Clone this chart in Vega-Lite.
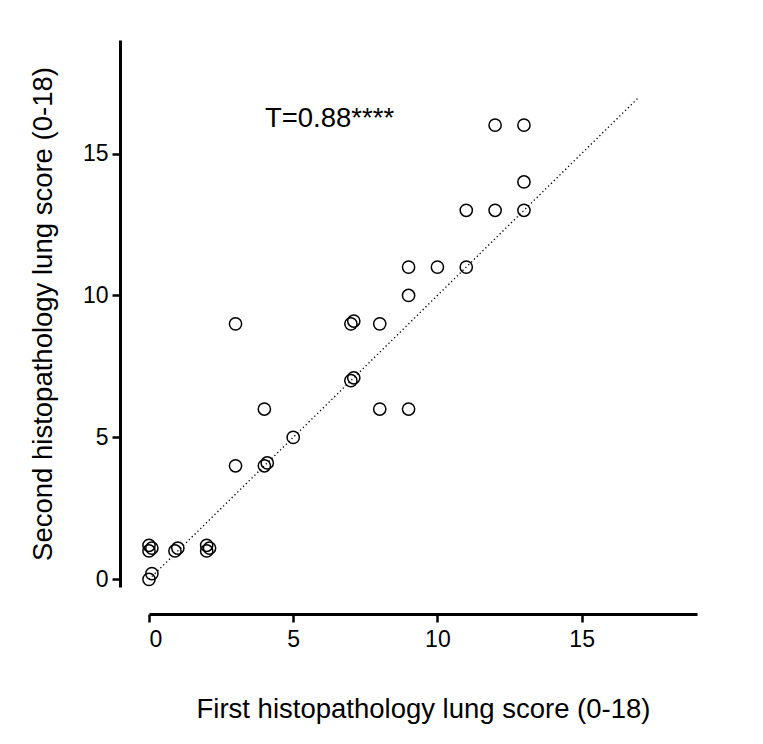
{
  "$schema": "https://vega.github.io/schema/vega-lite/v6.json",
  "width": 548,
  "height": 547,
  "autosize": {"type": "none"},
  "padding": {"left": 149, "top": 40, "right": 66, "bottom": 157},
  "background": "white",
  "config": {
    "view": {"stroke": null},
    "font": "Liberation Sans",
    "axis": {
      "grid": false,
      "domainColor": "black",
      "domainWidth": 3,
      "tickColor": "black",
      "tickWidth": 2.5,
      "tickSize": 8,
      "labelColor": "black",
      "labelFont": "Liberation Sans",
      "labelFontSize": 23,
      "titleColor": "black",
      "titleFont": "Liberation Sans",
      "titleFontSize": 27.5,
      "titleFontWeight": "normal"
    }
  },
  "datasets": {
    "pts": [
      {"first": 0, "second": 0}, {"first": 0.1, "second": 0.2},
      {"first": 0, "second": 1.2}, {"first": 0.1, "second": 1.1}, {"first": 0, "second": 1.0},
      {"first": 0.9, "second": 1.0}, {"first": 1.0, "second": 1.1},
      {"first": 2, "second": 1.2}, {"first": 2.1, "second": 1.1}, {"first": 2, "second": 1.0},
      {"first": 3, "second": 4}, {"first": 4, "second": 4}, {"first": 4.1, "second": 4.1},
      {"first": 5, "second": 5}, {"first": 4, "second": 6}, {"first": 3, "second": 9},
      {"first": 7, "second": 7}, {"first": 7.1, "second": 7.1}, {"first": 8, "second": 6},
      {"first": 9, "second": 6}, {"first": 7, "second": 9}, {"first": 7.1, "second": 9.1},
      {"first": 8, "second": 9}, {"first": 9, "second": 10}, {"first": 9, "second": 11},
      {"first": 10, "second": 11}, {"first": 11, "second": 11}, {"first": 11, "second": 13},
      {"first": 12, "second": 13}, {"first": 13, "second": 13}, {"first": 13, "second": 14},
      {"first": 12, "second": 16}, {"first": 13, "second": 16}
    ],
    "fit": [{"first": 0, "second": 0}, {"first": 17, "second": 17}],
    "note": [{"first": 4.02, "second": 15.93, "label": "T=0.88****"}]
  },
  "layer": [
    {
      "data": {"name": "fit"},
      "mark": {"type": "line", "color": "black", "strokeWidth": 1.3, "strokeDash": [1.3, 2.7]},
      "encoding": {
        "x": {
          "field": "first", "type": "quantitative",
          "scale": {"domain": [0, 19], "nice": false, "zero": false},
          "axis": {"values": [0, 5, 10, 15], "offset": 27, "labelPadding": 6, "title": "First histopathology lung score (0-18)", "titlePadding": 44}
        },
        "y": {
          "field": "second", "type": "quantitative",
          "scale": {"domain": [-0.27, 19], "nice": false, "zero": false},
          "axis": {"values": [0, 5, 10, 15], "offset": 29, "labelPadding": 4, "title": "Second histopathology lung score (0-18)", "titlePadding": 25}
        }
      }
    },
    {
      "data": {"name": "pts"},
      "mark": {"type": "point", "shape": "circle", "filled": false, "color": "black", "strokeWidth": 1.5, "size": 150, "opacity": 1},
      "encoding": {
        "x": {"field": "first", "type": "quantitative"},
        "y": {"field": "second", "type": "quantitative"}
      }
    },
    {
      "data": {"name": "note"},
      "mark": {"type": "text", "align": "left", "baseline": "alphabetic", "fontSize": 27.5, "font": "Liberation Sans", "color": "black"},
      "encoding": {
        "x": {"field": "first", "type": "quantitative"},
        "y": {"field": "second", "type": "quantitative"},
        "text": {"field": "label"}
      }
    }
  ]
}
